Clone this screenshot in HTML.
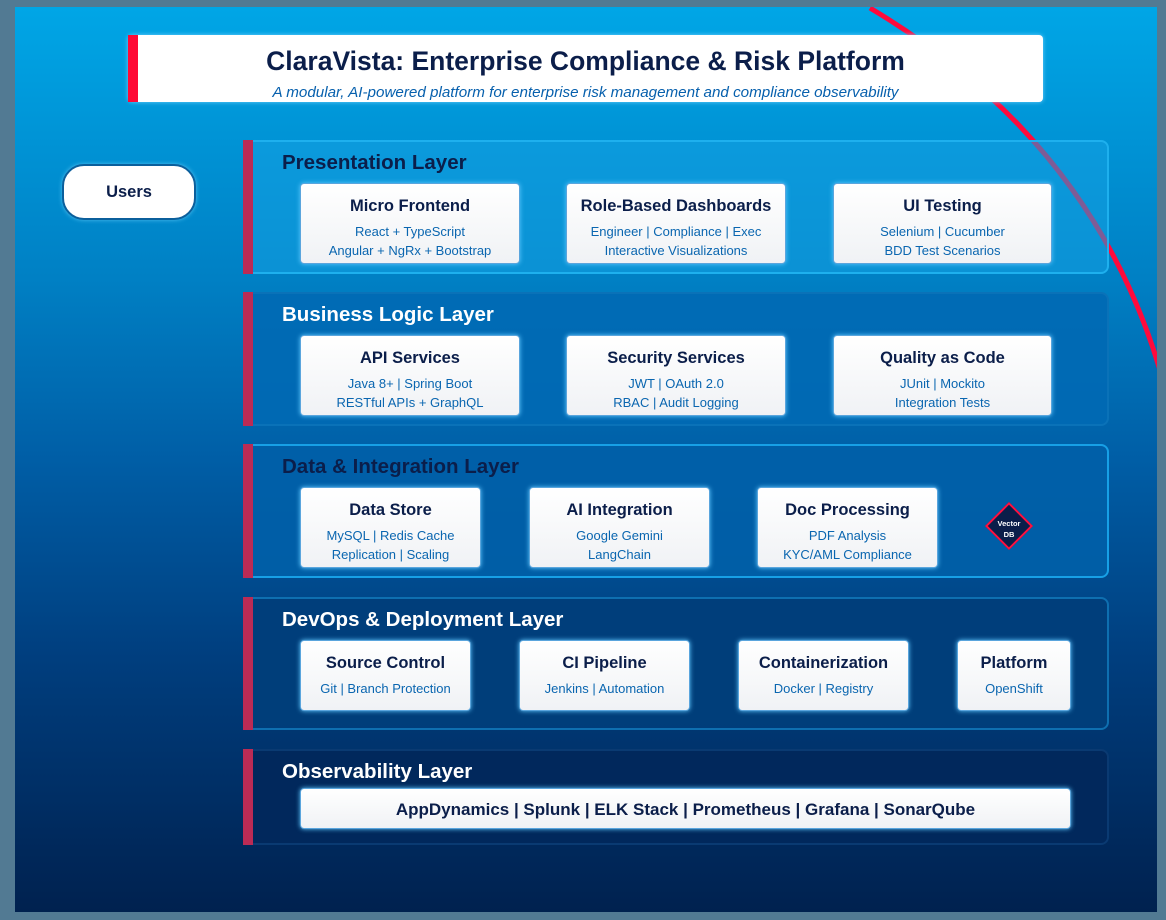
<!DOCTYPE html>
<html><head><meta charset="utf-8"><style>
*{margin:0;padding:0;box-sizing:border-box}
body{width:1166px;height:920px;background:#527a93;position:relative;overflow:hidden;font-family:"Liberation Sans",Arial,sans-serif}
#c{position:absolute;left:15px;top:7px;width:1142px;height:905px;background:linear-gradient(#00a6e6 0%,#0080c4 30%,#005ea6 50%,#003e7e 72%,#00214f 100%);overflow:hidden}
.abs{position:absolute}
.hdr{left:113px;top:28px;width:915px;height:67px;background:#fff;border-radius:4px;box-shadow:0 0 4px #6fd0ff;text-align:center}
.hdr .bar{position:absolute;left:0;top:0;width:10px;height:100%;background:#ff0a36}
.hdr h1{font-size:26.5px;font-weight:bold;color:#0b1e4a;margin-top:11px}
.hdr p{font-size:15.2px;font-style:italic;color:#0760ad;margin-top:7px}
.users{left:47px;top:157px;width:134px;height:56px;background:#fff;border:2px solid #0b5f9c;border-radius:22px;text-align:center;line-height:52px;font-weight:bold;font-size:16.5px;color:#0b1e4a;box-shadow:0 0 4px #4fc0f0}
.layer{position:absolute;left:228px;width:866px;border-radius:8px;border:2px solid}
.layer .rb{position:absolute;left:-2px;top:-2px;bottom:-2px;width:10px;background:#bb2b55}
.layer h2{position:absolute;left:37px;top:9px;font-size:20.5px;font-weight:bold}
.card{position:absolute;background:linear-gradient(#fff,#f0f2f5);border:1px solid #5aa5dd;border-radius:4px;box-shadow:0 0 5px #5fc8ff;text-align:center}
.card b{display:block;font-size:16.5px;color:#0b1e4a;margin-top:13px}
.card span{display:block;font-size:13px;color:#0a66b0;line-height:19px}
.card b+span{margin-top:6px}
</style></head><body>
<div id="c">
<svg class="abs" style="left:0;top:0" width="1142" height="905"><path d="M855,1 Q1080,135 1147,370" fill="none" stroke="#ff0a3c" stroke-width="5"/></svg>
<div class="abs hdr"><div class="bar"></div><h1>ClaraVista: Enterprise Compliance &amp; Risk Platform</h1><p>A modular, AI-powered platform for enterprise risk management and compliance observability</p></div>
<div class="abs users">Users</div>

<div class="layer" style="top:133px;height:134px;background:rgba(20,160,225,0.55);border-color:#1eb0ee"><div class="rb"></div><h2 style="color:#0b1e4a">Presentation Layer</h2></div>
<div class="layer" style="top:285px;height:134px;background:rgba(0,105,180,0.9);border-color:#0a72b8"><div class="rb"></div><h2 style="color:#fff">Business Logic Layer</h2></div>
<div class="layer" style="top:437px;height:134px;background:rgba(0,96,168,0.92);border-color:#17a0e6"><div class="rb"></div><h2 style="color:#0b1e4a">Data &amp; Integration Layer</h2></div>
<div class="layer" style="top:590px;height:133px;background:rgba(0,62,122,0.95);border-color:#0e6fb0"><div class="rb"></div><h2 style="color:#fff">DevOps &amp; Deployment Layer</h2></div>
<div class="layer" style="top:742px;height:96px;background:rgba(1,40,92,0.95);border-color:#0a3a72"><div class="rb"></div><h2 style="color:#fff">Observability Layer</h2></div>

<div class="card" style="left:285px;top:176px;width:220px;height:81px"><b>Micro Frontend</b><span>React + TypeScript</span><span>Angular + NgRx + Bootstrap</span></div>
<div class="card" style="left:551px;top:176px;width:220px;height:81px"><b>Role-Based Dashboards</b><span>Engineer | Compliance | Exec</span><span>Interactive Visualizations</span></div>
<div class="card" style="left:818px;top:176px;width:219px;height:81px"><b>UI Testing</b><span>Selenium | Cucumber</span><span>BDD Test Scenarios</span></div>

<div class="card" style="left:285px;top:328px;width:220px;height:81px"><b>API Services</b><span>Java 8+ | Spring Boot</span><span>RESTful APIs + GraphQL</span></div>
<div class="card" style="left:551px;top:328px;width:220px;height:81px"><b>Security Services</b><span>JWT | OAuth 2.0</span><span>RBAC | Audit Logging</span></div>
<div class="card" style="left:818px;top:328px;width:219px;height:81px"><b>Quality as Code</b><span>JUnit | Mockito</span><span>Integration Tests</span></div>

<div class="card" style="left:285px;top:480px;width:181px;height:81px"><b>Data Store</b><span>MySQL | Redis Cache</span><span>Replication | Scaling</span></div>
<div class="card" style="left:514px;top:480px;width:181px;height:81px"><b>AI Integration</b><span>Google Gemini</span><span>LangChain</span></div>
<div class="card" style="left:742px;top:480px;width:181px;height:81px"><b>Doc Processing</b><span>PDF Analysis</span><span>KYC/AML Compliance</span></div>
<div class="abs" style="left:977px;top:502px;width:34px;height:34px;background:#0b1e4a;border:2px solid #ff1040;transform:rotate(45deg)"></div>
<div class="abs" style="left:970px;top:511px;width:48px;text-align:center;color:#fff;font-size:7.5px;font-weight:bold;line-height:11px">Vector<br>DB</div>

<div class="card" style="left:285px;top:633px;width:171px;height:71px"><b>Source Control</b><span>Git | Branch Protection</span></div>
<div class="card" style="left:504px;top:633px;width:171px;height:71px"><b>CI Pipeline</b><span>Jenkins | Automation</span></div>
<div class="card" style="left:723px;top:633px;width:171px;height:71px"><b>Containerization</b><span>Docker | Registry</span></div>
<div class="card" style="left:942px;top:633px;width:114px;height:71px"><b>Platform</b><span>OpenShift</span></div>

<div class="card" style="left:285px;top:781px;width:771px;height:41px"><b style="margin-top:11px;font-size:17px">AppDynamics | Splunk | ELK Stack | Prometheus | Grafana | SonarQube</b></div>
</div>
</body></html>
